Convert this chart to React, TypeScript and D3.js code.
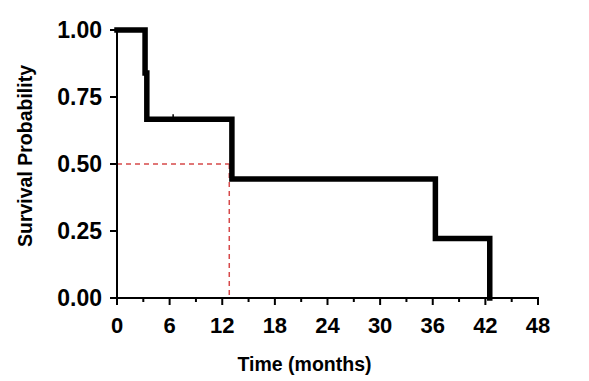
import React from "react";
import * as d3 from "d3";

const eventTimes = [0, 3.2, 3.4, 13.1, 36.3, 42.5];
const survival = [1, 0.84, 0.667, 0.444, 0.222, 0];
const censorTimes = [6.4];
const censorSurv = [0.667];
const medianTime = 12.8;
const medianSurv = 0.5;
const xTicks = [0, 6, 12, 18, 24, 30, 36, 42, 48];
const xMinorTicks = [3, 9, 15, 21, 27, 33, 39, 45];
const yTicks = [0, 0.25, 0.5, 0.75, 1.0];

const W = 589;
const H = 381;
const FONT = "'Liberation Sans', Arial, sans-serif";

export default function App() {
  const x = d3.scaleLinear().domain([0, 48]).range([117, 538]);
  const y = d3.scaleLinear().domain([0, 1]).range([298, 30]);

  const pts: [number, number][] = eventTimes.map((t, i) => [t, survival[i]]);
  const line = d3
    .line<[number, number]>()
    .x((d) => x(d[0]))
    .y((d) => y(d[1]))
    .curve(d3.curveStepAfter);
  const path = line(pts) || "";

  return (
    <svg
      width={W}
      height={H}
      style={{ position: "absolute", left: 0, top: 0, background: "#fff" }}
      fontFamily={FONT}
    >
      <rect width={W} height={H} fill="#fff" />
      {/* median dashed lines */}
      <line
        x1={x(0)}
        x2={x(medianTime)}
        y1={y(medianSurv)}
        y2={y(medianSurv)}
        stroke="#d6494a"
        strokeWidth={1.5}
        strokeDasharray="5,4"
      />
      <line
        x1={x(medianTime)}
        x2={x(medianTime)}
        y1={y(medianSurv)}
        y2={y(0)}
        stroke="#d6494a"
        strokeWidth={1.5}
        strokeDasharray="5,4"
      />
      {/* axes */}
      <line x1={x(0)} x2={x(0)} y1={y(1) - 1} y2={y(0) + 1} stroke="#000" strokeWidth={2} />
      <line x1={x(0) - 1} x2={x(48) + 1} y1={y(0)} y2={y(0)} stroke="#000" strokeWidth={2} />
      {yTicks.map((t) => (
        <g key={"y" + t}>
          <line x1={x(0) - 7} x2={x(0)} y1={y(t)} y2={y(t)} stroke="#000" strokeWidth={2} />
          <text
            x={x(0) - 15}
            y={y(t) + 8}
            textAnchor="end"
            fontSize={23}
            fontWeight="bold"
            fill="#000"
          >
            {t.toFixed(2)}
          </text>
        </g>
      ))}
      {xTicks.map((t) => (
        <g key={"x" + t}>
          <line x1={x(t)} x2={x(t)} y1={y(0)} y2={y(0) + 7} stroke="#000" strokeWidth={2} />
          <text x={x(t)} y={333} textAnchor="middle" fontSize={22} fontWeight="bold" fill="#000">
            {t}
          </text>
        </g>
      ))}
      {xMinorTicks.map((t) => (
        <line key={"m" + t} x1={x(t)} x2={x(t)} y1={y(0)} y2={y(0) + 4} stroke="#000" strokeWidth={2} />
      ))}
      {/* survival curve */}
      <path d={path} fill="none" stroke="#000" strokeWidth={5.5} strokeLinejoin="miter" strokeLinecap="square" />
      {censorTimes.map((t, i) => (
        <line
          key={"c" + i}
          x1={x(t)}
          x2={x(t)}
          y1={y(censorSurv[i]) - 5}
          y2={y(censorSurv[i])}
          stroke="#000"
          strokeWidth={1.5}
        />
      ))}
      {/* labels */}
      <text
        transform={`translate(32, 156) rotate(-90)`}
        textAnchor="middle"
        fontSize={19.5}
        fontWeight="bold"
        fill="#000"
      >
        Survival Probability
      </text>
      <text x={304.5} y={371} textAnchor="middle" fontSize={19.5} fontWeight="bold" fill="#000">
        Time (months)
      </text>
    </svg>
  );
}
